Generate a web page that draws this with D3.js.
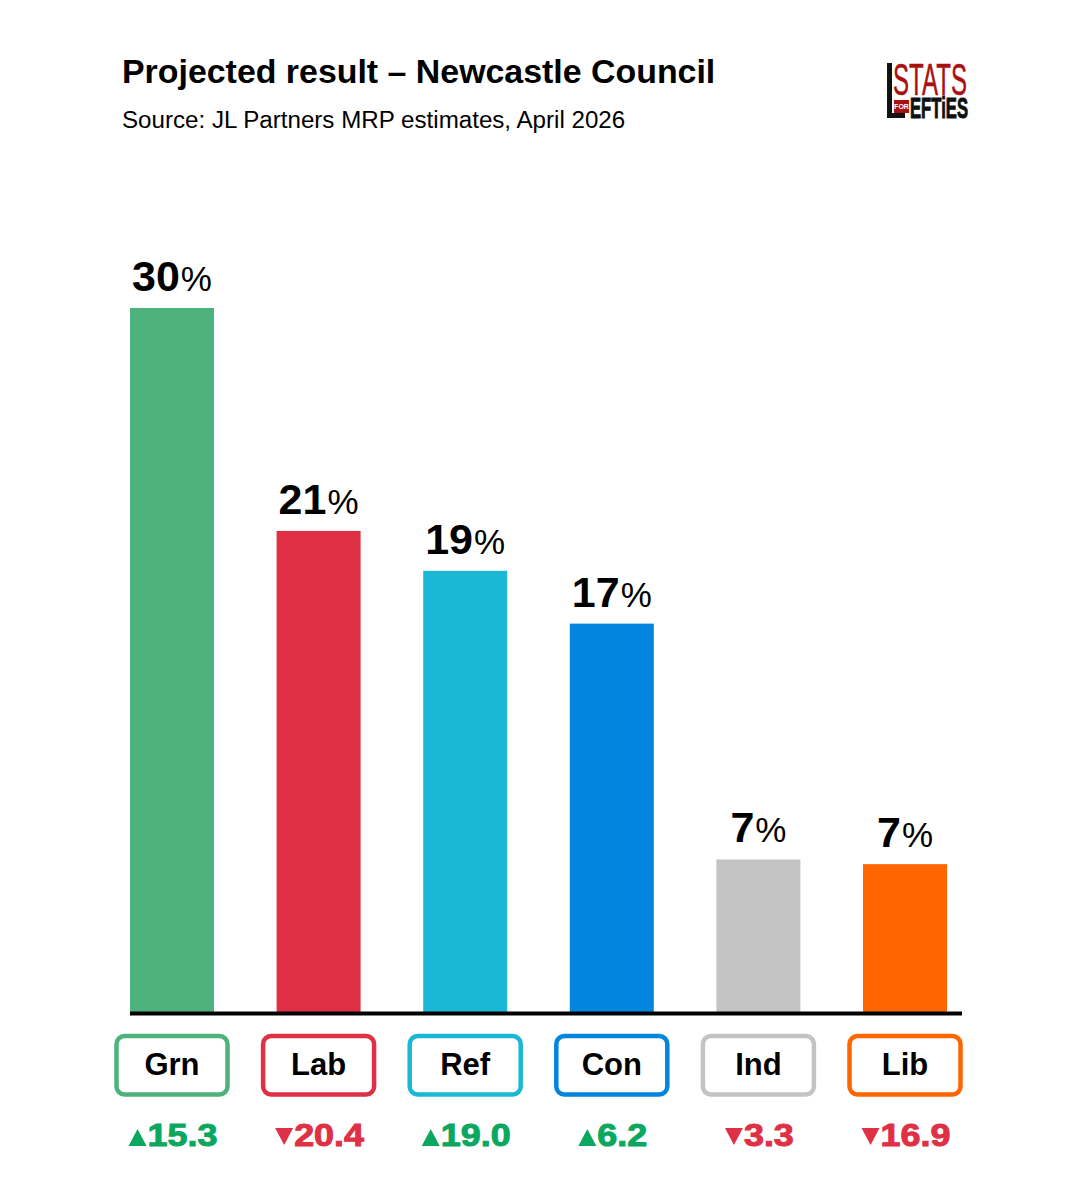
<!DOCTYPE html>
<html>
<head>
<meta charset="utf-8">
<script src="https://cdn.jsdelivr.net/npm/d3@7"></script>
<style>
  html, body { margin: 0; padding: 0; background: #fff; }
  text { font-family: "Liberation Sans", Arial, sans-serif; }
</style>
</head>
<body>
<div id="svg"></div>
<script>
const parties = ['Grn', 'Lab', 'Ref', 'Con', 'Ind', 'Lib']
const shares = [30, 20.5, 18.8, 16.55, 6.5, 6.3]
const shareLabels = ['30', '21', '19', '17', '7', '7']
const changes = [15.3, -20.4, 19.0, 6.2, -3.3, -16.9]
const colours = ['#4eb27c', '#df3045', '#1ab8d4', '#0285dc', '#c3c3c3', '#ff6600']

const baseline = 1012

const svg = d3.select('#svg')
    .append('svg')
    .attr('width', 1078)
    .attr('height', 1200)

const xScale = d3.scaleBand().domain(parties).range([130, 947]).paddingInner(0.427)
const yScale = d3.scaleLinear().domain([0, 30]).range([baseline, 308])
const colour = d3.scaleOrdinal().domain(parties).range(colours)

// title
svg.append('text')
    .attr('x', 122).attr('y', 83)
    .attr('font-size', 33.9).attr('font-weight', 700).attr('fill', '#000')
    .text('Projected result – Newcastle Council')

svg.append('text')
    .attr('x', 122).attr('y', 128)
    .attr('font-size', 24.15).attr('fill', '#000')
    .text('Source: JL Partners MRP estimates, April 2026')

// logo
const logo = svg.append('g').attr('class', 'logo')
logo.append('path')
    .attr('d', 'M887 63h5v50h13v5h-18z')
    .attr('fill', '#111')
logo.append('text')
    .attr('x', 893).attr('y', 95)
    .attr('font-size', 44).attr('fill', '#ab1010')
    .attr('stroke', '#ab1010').attr('stroke-width', 0.5)
    .attr('textLength', 74).attr('lengthAdjust', 'spacingAndGlyphs')
    .text('STATS')
logo.append('rect')
    .attr('x', 894).attr('y', 100).attr('width', 15).attr('height', 13)
    .attr('fill', '#ab1010')
logo.append('text')
    .attr('x', 901.5).attr('y', 109).attr('text-anchor', 'middle')
    .attr('font-size', 7).attr('font-weight', 700).attr('fill', '#fff')
    .text('FOR')
logo.append('text')
    .attr('x', 910).attr('y', 118)
    .attr('font-size', 29).attr('font-weight', 700).attr('fill', '#111')
    .attr('stroke', '#111').attr('stroke-width', 1)
    .attr('textLength', 58).attr('lengthAdjust', 'spacingAndGlyphs')
    .text('EFTiES')

// bars
svg.selectAll('.bar')
    .data(parties)
    .enter()
    .append('rect')
    .attr('class', 'bar')
    .attr('x', d => xScale(d))
    .attr('y', (d, i) => yScale(shares[i]))
    .attr('width', xScale.bandwidth())
    .attr('height', (d, i) => baseline - yScale(shares[i]))
    .attr('fill', d => colour(d))

// value labels
const valueLabels = svg.selectAll('.value')
    .data(parties)
    .enter()
    .append('text')
    .attr('class', 'value')
    .attr('x', d => xScale(d) + xScale.bandwidth() / 2)
    .attr('y', (d, i) => yScale(shares[i]) - 17)
    .attr('text-anchor', 'middle')
    .attr('fill', '#000')

valueLabels.append('tspan')
    .attr('font-size', 43).attr('font-weight', 700)
    .text((d, i) => shareLabels[i])
valueLabels.append('tspan')
    .attr('font-size', 35).attr('dx', 1)
    .text('%')

// label boxes, behind the axis text
svg.selectAll('.box')
    .data(parties)
    .enter()
    .append('rect')
    .attr('class', 'box')
    .attr('x', d => xScale(d) + xScale.bandwidth() / 2 - 55.5)
    .attr('y', 1036)
    .attr('width', 111)
    .attr('height', 58.5)
    .attr('rx', 8)
    .attr('fill', '#fff')
    .attr('stroke', d => colour(d))
    .attr('stroke-width', 4.5)

// axis
const axis = svg.append('g')
    .attr('class', 'axis')
    .attr('transform', 'translate(0,' + baseline + ')')
    .call(d3.axisBottom(xScale).tickSize(0).tickPadding(41))

axis.select('.domain').remove()
axis.selectAll('text')
    .attr('font-size', 31)
    .attr('font-weight', 700)
    .attr('font-family', '"Liberation Sans", Arial, sans-serif')
    .attr('fill', '#000')

svg.append('line')
    .attr('x1', 130).attr('x2', 962)
    .attr('y1', baseline + 1.5).attr('y2', baseline + 1.5)
    .attr('stroke', '#000').attr('stroke-width', 4)

// change since last time: arrow + number, centred together under the bar
const changeColour = d => d >= 0 ? '#0aa85f' : '#df3045'
const arrowWidth = 19
const stretch = 1.14
const triangle = d3.symbol().type(d3.symbolTriangle).size(140)

const changeGroups = svg.selectAll('.change')
    .data(changes)
    .enter()
    .append('g')
    .attr('class', 'change')

changeGroups.each(function (d, i) {
    const g = d3.select(this)
    const cx = xScale(parties[i]) + xScale.bandwidth() / 2 + 1
    const label = g.append('text')
        .attr('font-size', 31.5)
        .attr('font-weight', 700)
        .attr('fill', changeColour(d))
        .attr('stroke', changeColour(d))
        .attr('stroke-width', 1)
        .text(Math.abs(d).toFixed(1))
    const width = label.node().getComputedTextLength() * stretch
    const left = cx - (width + arrowWidth) / 2
    label.attr('transform', 'translate(' + (left + arrowWidth) + ',1146) scale(' + stretch + ',1)')
    g.append('path')
        .attr('d', triangle())
        .attr('fill', changeColour(d))
        .attr('transform', d >= 0
            ? 'translate(' + (left + 9) + ',1140.3) scale(1,1.1)'
            : 'translate(' + (left + 9) + ',1133.7) scale(1,-1.1)')
})
</script>
</body>
</html>
